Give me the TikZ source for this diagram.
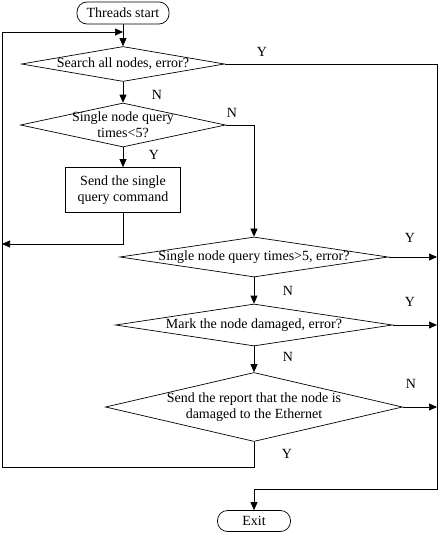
\documentclass[tikz,border=0pt]{standalone}
\usepackage{fontspec}
\setmainfont{Liberation Serif}
\usetikzlibrary{shapes.geometric,arrows.meta}
\tikzset{
  terminal/.style={draw, rounded corners=10pt, minimum height=22pt, inner sep=2pt},
  decision/.style={draw, diamond, inner sep=0pt, align=center},
  process/.style={draw, align=center, inner sep=2pt},
  flow/.style={-{Triangle[length=8pt,width=7pt]}},
}
\begin{document}
\begin{tikzpicture}[x=1pt, y=-1pt, line width=0.7pt, font=\fontsize{14}{16}\selectfont]
    \useasboundingbox (0,0) rectangle (442,533);
    % boxes
    \node[terminal, minimum width=92pt] (start) at (123,13) {Threads start};
    \node[decision, minimum width=203pt, minimum height=35pt, aspect=5.8, inner xsep=-3pt] (search) at (123,64) {Search all nodes, error?};
    \node[decision, minimum width=205pt, minimum height=44pt, aspect=4.6, inner xsep=-10pt, inner ysep=-3pt] (single) at (123,125) {Single node query\\times<5?};
    \node[process, minimum width=115pt, minimum height=45pt] (sendq) at (123,190) {Send the single\\query command};
    \node[decision, minimum width=267pt, minimum height=40pt, aspect=6.7, inner xsep=-4pt] (over) at (254,257) {Single node query times>5, error?};
    \node[decision, minimum width=277pt, minimum height=42pt, aspect=6.6] (mark) at (254,325) {Mark the node damaged, error?};
    \node[decision, minimum width=297pt, minimum height=69pt, aspect=4.3, inner xsep=-6pt, inner ysep=-3pt] (report) at (254,407) {Send the report that the node is\\damaged to the Ethernet};
    \node[terminal, minimum width=73pt, minimum height=21pt] (exit) at (254,521) {Exit};
    % corner points
    \coordinate (join) at (123,32);
    \coordinate (lin) at (2,244);
    \coordinate (lbot) at (2,467);
    \coordinate (rbot) at (437,489);
    % connectors
    \draw[flow] (start) -- (search);
    \draw[flow] (search) -- (single);
    \draw[flow] (single) -- (sendq);
    \draw[flow] (sendq.south) |- (lin);
    \draw[flow] (single.east) -| (over.north);
    \draw[flow] (over) -- (mark);
    \draw[flow] (mark) -- (report);
    \draw[flow] (report.south) |- (lbot) |- (join);
    \draw[flow] (search.east) -| (rbot) -| (exit.north);
    \draw[flow] (over.east) -- (over.east -| rbot);
    \draw[flow] (mark.east) -- (mark.east -| rbot);
    \draw[flow] (report.east) -- (report.east -| rbot);
    % labels
    \node (ys) at (262,52) {Y};
    \node (ns) at (157,95) {N};
    \node (nq) at (232,113) {N};
    \node (yq) at (154,155) {Y};
    \node (yo) at (410,238) {Y};
    \node (no) at (288,291) {N};
    \node (ym) at (410,302) {Y};
    \node (nm) at (288,357) {N};
    \node (nr) at (411,384) {N};
    \node (yr) at (287,454) {Y};
\end{tikzpicture}
\end{document}
